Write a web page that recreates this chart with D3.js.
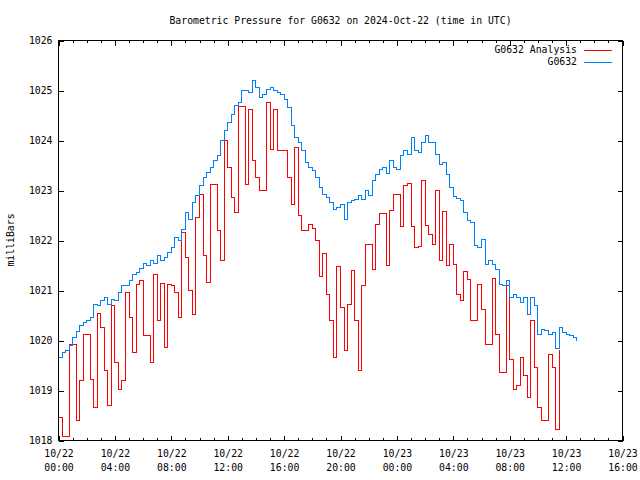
<!DOCTYPE html>
<html><head><meta charset="utf-8">
<script src="https://cdn.jsdelivr.net/npm/d3@7"></script>
<style>
body{margin:0;background:#fff}
svg{display:block}
text{font-family:"DejaVu Sans Mono",monospace;font-size:9.8px;fill:#000}
</style>
</head><body>
<svg id="c" width="640" height="480"></svg>
<script>
const chartTitle = "Barometric Pressure for G0632 on 2024-Oct-22 (time in UTC)";
const yAxisTitle = "milliBars";
const seriesNames = ["G0632 Analysis", "G0632"];
const seriesColors = ["#ff0000", "#0080ff"];
const startTime = "2024-10-22T00:00:00Z";
const spanHours = 40;
const stepMinutes = 15;
const yTickValues = [1018, 1019, 1020, 1021, 1022, 1023, 1024, 1025, 1026];
const xMajorHours = 4;

const analysisPressure = [
1018.47,1018.08,1018.08,1019.93,1019.93,1018.4,1019.2,1020.12,1020.12,1019.23,
1018.67,1020.55,1020.27,1019.4,1018.7,1020.7,1019.57,1019.03,1019.2,1020.97,
1020.47,1019.77,1021.13,1021.2,1020.1,1020.1,1019.57,1021.33,1020.4,1021.15,
1019.87,1021.12,1021.1,1020.97,1020.47,1022.17,1021.67,1021.0,1020.53,1022.47,
1022.93,1021.7,1021.17,1023.12,1023.12,1022.2,1021.6,1024.0,1023.47,1022.87,
1022.57,1024.68,1024.68,1023.13,1024.63,1023.6,1023.27,1023.01,1023.01,1024.77,
1023.82,1024.63,1023.8,1023.8,1023.8,1023.27,1022.72,1023.87,1022.5,1022.21,
1022.21,1022.33,1022.25,1022.0,1021.28,1021.75,1020.93,1020.4,1019.67,1021.48,
1020.67,1019.8,1020.72,1021.4,1020.4,1019.4,1021.1,1021.92,1021.92,1021.43,
1022.33,1022.55,1022.55,1021.5,1022.6,1022.93,1022.93,1022.28,1023.1,1023.15,
1022.28,1021.87,1021.88,1023.21,1022.3,1022.13,1021.93,1023.0,1021.6,1022.59,
1021.5,1021.92,1021.53,1020.93,1020.8,1021.39,1021.23,1020.41,1020.41,1021.13,
1020.63,1019.93,1019.93,1021.25,1020.13,1019.37,1019.37,1021.1,1019.63,1019.03,
1019.1,1019.67,1019.3,1018.87,1020.4,1019.47,1018.67,1018.41,1018.41,1019.73,
1019.47,1018.23,1019.81
];

const stationPressure = [
1019.67,1019.77,1019.8,1019.9,1020.07,1020.19,1020.3,1020.37,1020.4,1020.47,
1020.73,1020.7,1020.8,1020.87,1020.73,1020.83,1020.8,1020.97,1021.1,1021.1,
1021.2,1021.33,1021.37,1021.45,1021.55,1021.5,1021.6,1021.55,1021.7,1021.6,
1021.67,1021.77,1021.87,1022.07,1022.0,1022.23,1022.57,1022.43,1022.77,1022.9,
1023.1,1023.27,1023.37,1023.47,1023.6,1023.7,1024.0,1024.2,1024.37,1024.53,
1024.7,1024.77,1025.0,1025.0,1024.97,1025.2,1025.07,1024.87,1024.93,1025.03,
1025.07,1025.0,1024.97,1024.93,1024.83,1024.67,1024.3,1024.07,1023.97,1023.8,
1023.57,1023.47,1023.4,1023.27,1023.07,1022.93,1022.87,1022.77,1022.63,1022.67,
1022.73,1022.43,1022.77,1022.8,1022.83,1022.9,1022.83,1023.0,1022.9,1023.2,
1023.33,1023.43,1023.47,1023.35,1023.6,1023.47,1023.43,1023.7,1023.8,1023.73,
1024.07,1023.8,1023.77,1023.97,1024.1,1023.97,1023.97,1023.73,1023.53,1023.57,
1023.33,1023.07,1022.88,1022.85,1022.81,1022.57,1022.4,1022.37,1021.9,1021.87,
1022.03,1021.53,1021.6,1021.53,1021.43,1021.13,1021.1,1021.2,1020.87,1020.92,
1020.87,1020.77,1020.87,1020.53,1020.87,1020.7,1020.13,1020.23,1020.2,1020.13,
1020.17,1019.85,1020.27,1020.17,1020.13,1020.1,1020.07,1019.99
];

const svg = d3.select("#c");
const M = {l: 58.5, r: 622.5, t: 40.5, b: 440.5};
const t0 = new Date(startTime);
const tEnd = d3.utcHour.offset(t0, spanHours);
const x = d3.scaleUtc().domain([t0, tEnd]).range([M.l, M.r]);
const y = d3.scaleLinear().domain([yTickValues[0], yTickValues[yTickValues.length - 1]]).range([M.b, M.t]);

const timeAt = i => d3.utcMinute.offset(t0, i * stepMinutes);
const hourly = d3.utcHour.range(t0, d3.utcHour.offset(tEnd, 1));
const major = d3.utcHour.every(xMajorHours).range(t0, d3.utcHour.offset(tEnd, 1));

function clean(g) {
  g.select(".domain").remove();
  g.attr("font-family", null).attr("font-size", null);
  g.selectAll("line").attr("shape-rendering", "crispEdges");
}

// minor ticks (bottom/top)
svg.append("g").attr("transform", `translate(0,${M.b})`)
  .call(d3.axisBottom(x).tickValues(hourly).tickSizeInner(-2.5).tickSizeOuter(0).tickFormat(""))
  .call(clean);
svg.append("g").attr("transform", `translate(0,${M.t})`)
  .call(d3.axisTop(x).tickValues(hourly).tickSizeInner(-2.5).tickSizeOuter(0).tickFormat(""))
  .call(clean);

// major bottom ticks with two-line labels
const fmtDate = d3.utcFormat("%m/%d"), fmtTime = d3.utcFormat("%H:%M");
const gx = svg.append("g").attr("transform", `translate(0,${M.b})`)
  .call(d3.axisBottom(x).tickValues(major).tickSizeInner(-5).tickSizeOuter(0).tickFormat(""))
  .call(clean);
gx.selectAll(".tick text").remove();
gx.selectAll(".tick").each(function(d) {
  const g = d3.select(this);
  g.append("text").attr("y", 16.3).attr("text-anchor", "middle").text(fmtDate(d));
  g.append("text").attr("y", 30.3).attr("text-anchor", "middle").text(fmtTime(d));
});
svg.append("g").attr("transform", `translate(0,${M.t})`)
  .call(d3.axisTop(x).tickValues(major).tickSizeInner(-5).tickSizeOuter(0).tickFormat(""))
  .call(clean);

// y axes
svg.append("g").attr("transform", `translate(${M.l},0)`)
  .call(d3.axisLeft(y).tickValues(yTickValues).tickSizeInner(-5).tickSizeOuter(0).tickPadding(6).tickFormat(d3.format("d")))
  .call(clean)
  .selectAll("text").attr("dy", "0.35em");
svg.append("g").attr("transform", `translate(${M.r},0)`)
  .call(d3.axisRight(y).tickValues(yTickValues).tickSizeInner(-5).tickSizeOuter(0).tickFormat(""))
  .call(clean);

// frame
svg.append("rect").attr("x", M.l).attr("y", M.t).attr("width", M.r - M.l).attr("height", M.b - M.t)
  .attr("fill", "none").attr("stroke", "#000").attr("shape-rendering", "crispEdges");

// clip
svg.append("clipPath").attr("id", "clip").append("rect")
  .attr("x", M.l).attr("y", M.t).attr("width", M.r - M.l).attr("height", M.b - M.t);

const line = d3.line().x((d, i) => x(timeAt(i))).y(d => y(d)).curve(d3.curveStepAfter);
const plot = svg.append("g").attr("clip-path", "url(#clip)");
plot.append("path").datum(analysisPressure).attr("d", line)
  .attr("fill", "none").attr("stroke", seriesColors[0]).attr("stroke-width", 1).attr("shape-rendering", "crispEdges");
plot.append("path").datum(stationPressure).attr("d", line)
  .attr("fill", "none").attr("stroke", seriesColors[1]).attr("stroke-width", 1).attr("shape-rendering", "crispEdges");

// title
svg.append("text").attr("x", (M.l + M.r) / 2).attr("y", 23.5).attr("text-anchor", "middle").text(chartTitle);

// y axis title
svg.append("text").attr("transform", "translate(10.5,240) rotate(-90)")
  .attr("text-anchor", "middle").attr("dy", "0.35em").text(yAxisTitle);

// legend
const leg = svg.append("g");
seriesNames.forEach((name, k) => {
  const ly = 49.5 + k * 12.5;
  leg.append("text").attr("x", 577).attr("y", ly).attr("dy", "0.35em").attr("text-anchor", "end").text(name);
  leg.append("line").attr("x1", 584).attr("x2", 612).attr("y1", Math.round(ly) + 0.5).attr("y2", Math.round(ly) + 0.5)
    .attr("stroke", seriesColors[k]).attr("stroke-width", 1).attr("shape-rendering", "crispEdges");
});
</script>
</body></html>
